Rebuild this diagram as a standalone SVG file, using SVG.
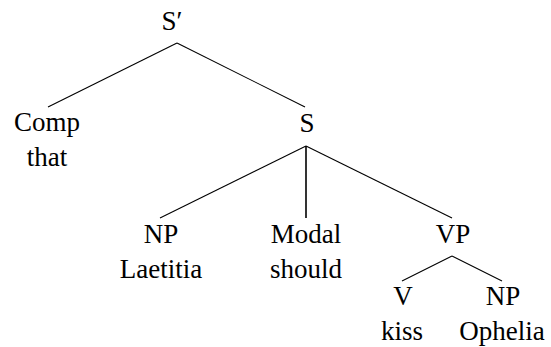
<svg xmlns="http://www.w3.org/2000/svg" width="551" height="347" viewBox="0 0 551 347">
<style>
.edge{stroke:#000;stroke-width:1.1;fill:none}
.t{font-family:Liberation Serif, Tinos, Times New Roman, Times, FreeSerif, Noto Serif, DejaVu Serif, serif;font-size:27px;fill:#000;text-anchor:middle}
</style>
<rect width="551" height="347" fill="#fff"/>
<g id="connectors">
<line class="edge" x1="177" y1="43" x2="48" y2="107"/>
<line class="edge" x1="177" y1="43" x2="305" y2="107"/>
<line class="edge" x1="306" y1="146" x2="160" y2="218"/>
<line class="edge" x1="306" y1="146" x2="306" y2="218" style="stroke-width:1.6"/>
<line class="edge" x1="306" y1="146" x2="452" y2="218"/>
<line class="edge" x1="452" y1="256" x2="402" y2="281"/>
<line class="edge" x1="452" y1="256" x2="502" y2="281"/>
</g>
<g id="Sbar"><text class="t" x="172" y="30">S′</text></g>
<g id="Comp"><text class="t" x="47" y="131">Comp</text><text class="t" x="47" y="166">that</text></g>
<g id="S"><text class="t" x="307" y="132">S</text></g>
<g id="NP1"><text class="t" x="161" y="243">NP</text><text class="t" x="161" y="278">Laetitia</text></g>
<g id="Modal"><text class="t" x="306" y="243">Modal</text><text class="t" x="306" y="278">should</text></g>
<g id="VP"><text class="t" x="453" y="243">VP</text></g>
<g id="V"><text class="t" x="403" y="305">V</text><text class="t" x="402" y="340">kiss</text></g>
<g id="NP2"><text class="t" x="503" y="305">NP</text><text class="t" x="502" y="340">Ophelia</text></g>
</svg>
